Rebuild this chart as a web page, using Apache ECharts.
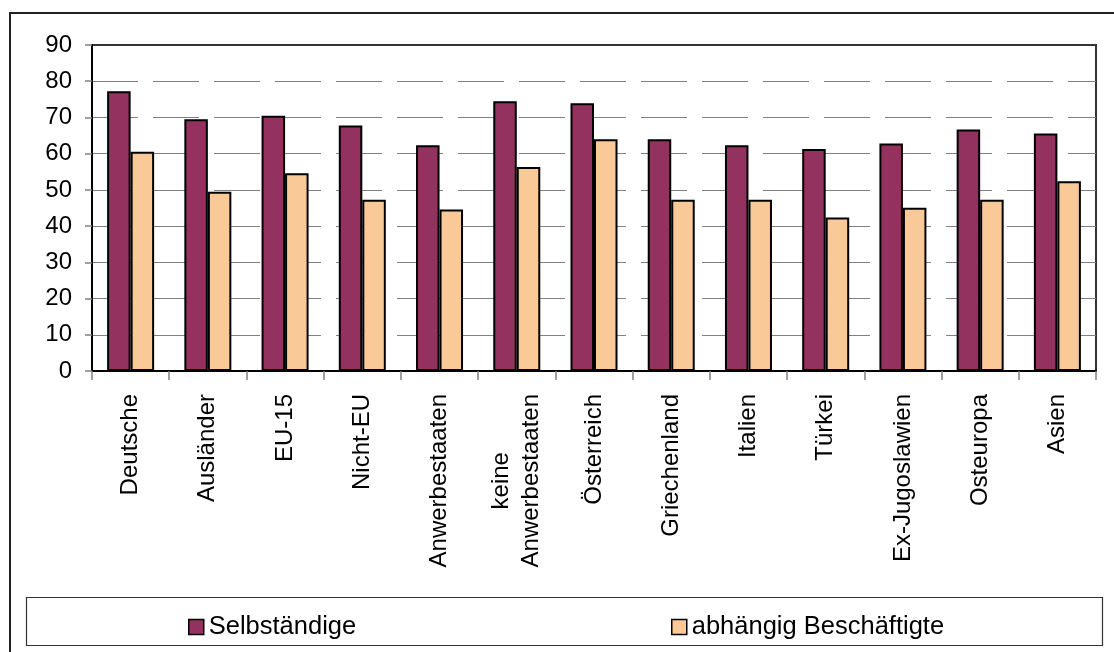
<!DOCTYPE html>
<html>
<head>
<meta charset="utf-8">
<script src="https://cdn.jsdelivr.net/npm/echarts@6/dist/echarts.min.js"></script>
<style>
  html, body { margin: 0; padding: 0; background: #fff; }
  #chart { width: 1114px; height: 652px; }
</style>
</head>
<body>
<div id="chart"></div>
<script>
// Groups of origin along the category axis
const categories = [
  'Deutsche', 'Ausländer', 'EU-15', 'Nicht-EU', 'Anwerbestaaten',
  'keine\nAnwerbestaaten', 'Österreich', 'Griechenland', 'Italien',
  'Türkei', 'Ex-Jugoslawien', 'Osteuropa', 'Asien'
];
// Series names
const nameSelf = 'Selbständige';
const nameEmployed = 'abhängig Beschäftigte';
// Values per group
const selbstaendige = [77.2, 69.5, 70.5, 67.8, 62.3, 74.5, 73.9, 64.0, 62.3, 61.3, 62.8, 66.7, 65.6];
const abhaengig     = [60.5, 49.5, 54.6, 47.3, 44.6, 56.3, 64.0, 47.3, 47.3, 42.4, 45.1, 47.3, 52.4];
// Value axis ticks: 0, 10, ..., 90
const yMin = 0, yMax = 90, yStep = 10;

const FONT = '"Liberation Sans", Arial, sans-serif';
const chart = echarts.init(document.getElementById('chart'), null, { renderer: 'canvas' });

const legendBase = {
  icon: 'rect', itemWidth: 15, itemHeight: 15, itemTextGap: 5, top: 609,
  textStyle: { fontSize: 25.5, fontFamily: FONT, color: '#000' },
  itemStyle: { borderColor: '#000', borderWidth: 1.5 }
};

chart.setOption({
  animation: false,
  backgroundColor: '#fff',
  textStyle: { fontFamily: FONT, color: '#000' },
  graphic: [
    // outer chart frame
    { type: 'rect', z: 0, silent: true,
      shape: { x: 10, y: 13, width: 1200, height: 700 },
      style: { fill: 'none', stroke: '#222', lineWidth: 2 } },
    // legend box
    { type: 'rect', z: 0, silent: true,
      shape: { x: 26.5, y: 597.5, width: 1076, height: 48 },
      style: { fill: '#fff', stroke: '#333', lineWidth: 1.2 } }
  ],
  grid: {
    left: 92, top: 45, right: 18, bottom: 281,
    show: true, borderColor: '#333', borderWidth: 2, backgroundColor: 'transparent'
  },
  legend: [
    Object.assign({}, legendBase, { data: [nameSelf], left: 183 }),
    Object.assign({}, legendBase, { data: [nameEmployed], left: 666 })
  ],
  xAxis: {
    type: 'category',
    data: categories,
    axisLine: { show: true, lineStyle: { color: '#000', width: 2 } },
    axisTick: { show: true, length: 9, alignWithLabel: false, lineStyle: { color: '#808080', width: 1.5 } },
    axisLabel: {
      interval: 0, rotate: 90, margin: 23, color: '#000',
      fontSize: 24, fontFamily: FONT,
      formatter: v => v.split('\n').map(s => '{c|' + s + '}').join('\n'),
      rich: { c: { align: 'center', fontSize: 24, lineHeight: 30, fontFamily: FONT, color: '#000' } }
    },
    splitLine: { show: false }
  },
  yAxis: {
    type: 'value',
    min: yMin, max: yMax, interval: yStep,
    axisLine: { show: true, lineStyle: { color: '#000', width: 2 } },
    axisTick: { show: true, length: 7, lineStyle: { color: '#808080', width: 1.5 } },
    axisLabel: { margin: 20, fontSize: 24, fontFamily: FONT, color: '#000' },
    splitLine: {
      show: true, showMinLine: false, showMaxLine: false,
      lineStyle: { color: '#808080', width: 1.2, type: [46, 15] }
    }
  },
  series: [
    { name: nameSelf, type: 'bar', data: selbstaendige, barWidth: 23.5, barGap: '0%',
      itemStyle: { color: '#94325F', borderColor: '#000', borderWidth: 2 } },
    { name: nameEmployed, type: 'bar', data: abhaengig, barWidth: 23.5, barGap: '0%',
      itemStyle: { color: '#F9CA98', borderColor: '#000', borderWidth: 2 } }
  ]
});
</script>
</body>
</html>
